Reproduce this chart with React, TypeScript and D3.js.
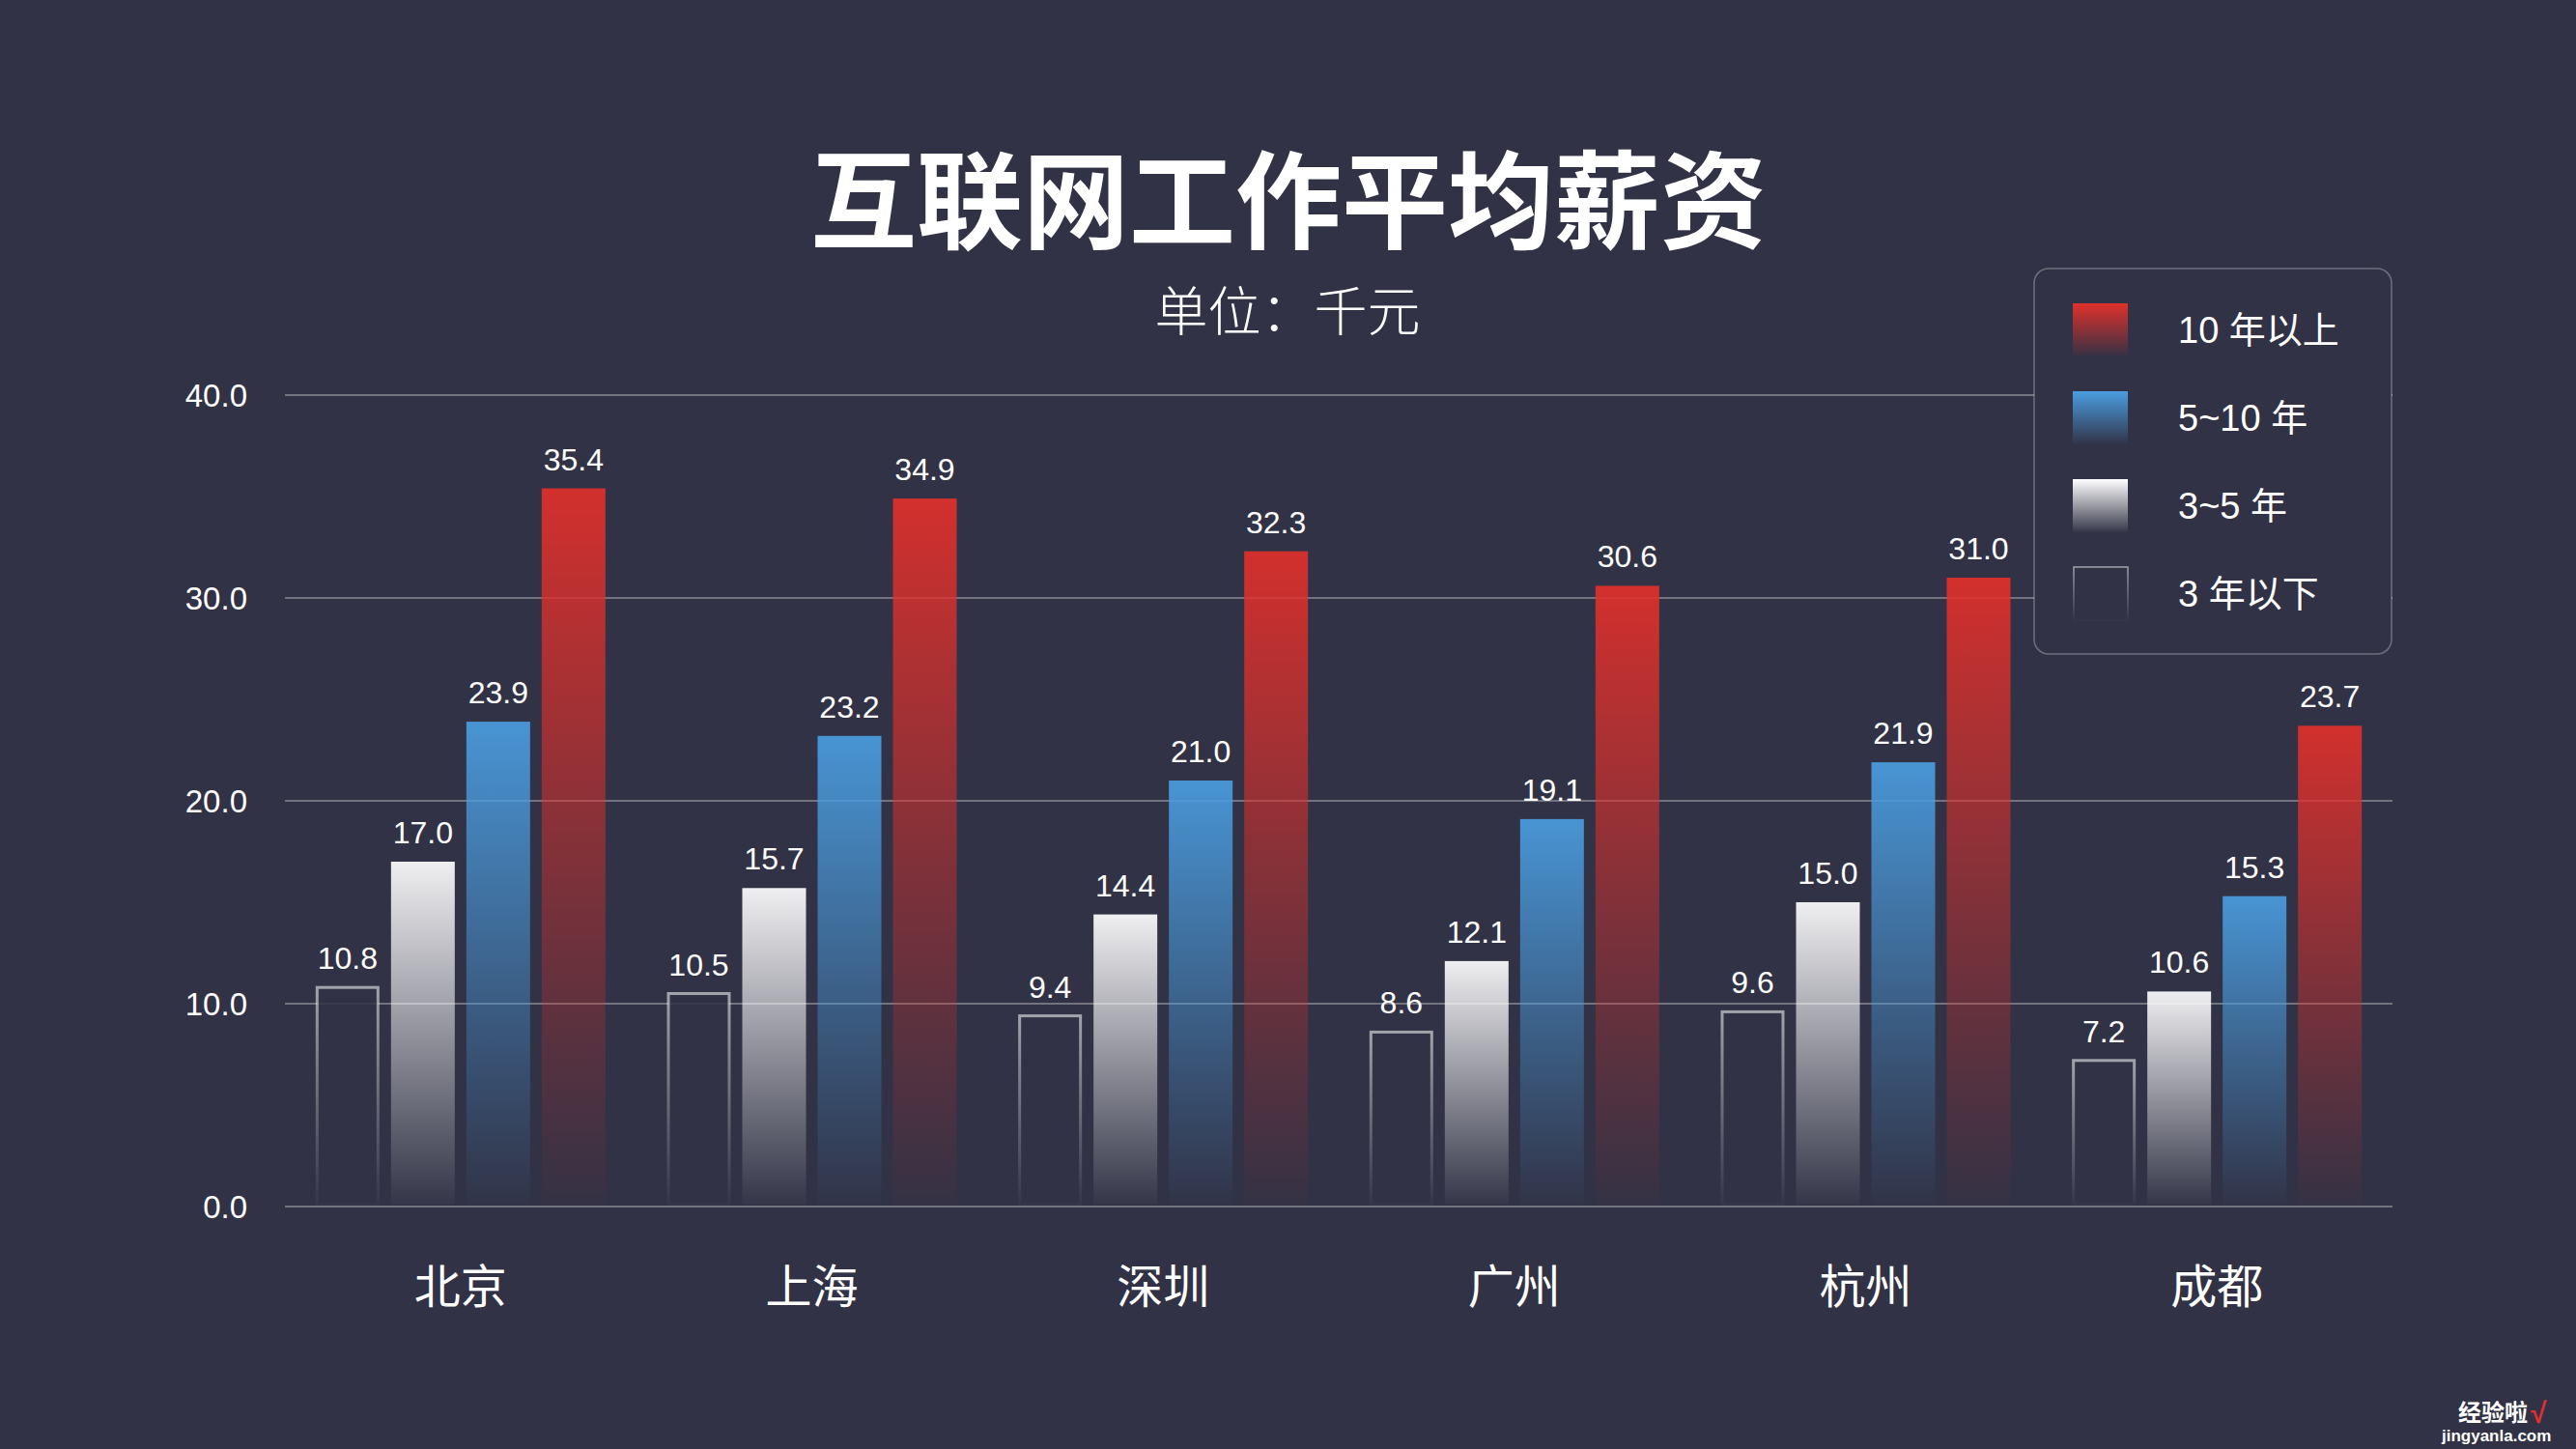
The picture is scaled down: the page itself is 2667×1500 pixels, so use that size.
import React from "react";
import * as d3 from "d3";

// chart data
const cities = ["北京", "上海", "深圳", "广州", "杭州", "成都"];
const seriesKeys = ["lt3", "y3to5", "y5to10", "gt10"];
const seriesNames = ["3 年以下", "3~5 年", "5~10 年", "10 年以上"];
const under3 = [10.8, 10.5, 9.4, 8.6, 9.6, 7.2];
const from3to5 = [17.0, 15.7, 14.4, 12.1, 15.0, 10.6];
const from5to10 = [23.9, 23.2, 21.0, 19.1, 21.9, 15.3];
const over10 = [35.4, 34.9, 32.3, 30.6, 31.0, 23.7];
const yTicks = [0, 10, 20, 30, 40];

const W = 2667, H = 1500;
const BG = "#313245";
const NUM_FONT = "'Liberation Sans', Arial, 'Noto Sans CJK SC', sans-serif";
const CJK_FONT = "'Noto Sans CJK SC', 'Liberation Sans', sans-serif";

const seriesValues: Record<string, number[]> = {
  lt3: under3, y3to5: from3to5, y5to10: from5to10, gt10: over10
};
// top colour of each gradient
const topColor: Record<string, string> = {
  lt3: "#ffffff", y3to5: "#ffffff", y5to10: "#4a9de0", gt10: "#e0302b"
};

export default function App() {
  const margin = { left: 295, right: W - 2477, top: 409, bottom: H - 1249 };
  const x0 = d3.scaleBand<string>().domain(cities).range([margin.left, W - margin.right]);
  const x1 = d3.scaleBand<string>().domain(seriesKeys)
    .range([0, x0.bandwidth()]).paddingInner(0.154).paddingOuter(0.408);
  const y = d3.scaleLinear().domain([0, 40]).range([H - margin.bottom, margin.top]);

  const legendX = 2106, legendY = 278;
  const legendOrder = [3, 2, 1, 0];

  return (
    <svg width={W} height={H} style={{ position: "absolute", left: 0, top: 0, display: "block" }}>
      <defs>
        {seriesKeys.map(k => (
          <linearGradient key={k} id={"g-" + k} x1="0" y1="0" x2="0" y2="1">
            <stop offset="0" stopColor={topColor[k]} stopOpacity={k === "lt3" ? 0.55 : 1} />
            <stop offset="1" stopColor={topColor[k]} stopOpacity={0.02} />
          </linearGradient>
        ))}
      </defs>
      <rect width={W} height={H} fill={BG} />

      {/* title */}
      <text x={1334} y={201} textAnchor="middle" dominantBaseline="central"
        fill="#fff" fontFamily={CJK_FONT} fontWeight={700} fontSize={110}>
        互联网工作平均薪资
      </text>
      <text x={1333} y={318} textAnchor="middle" dominantBaseline="central"
        fill="#fff" fontFamily={CJK_FONT} fontWeight={300} fontSize={55}>
        单位：千元
      </text>

      {/* grid + y axis */}
      {yTicks.map(t => (
        <g key={t}>
          <line x1={margin.left} x2={W - margin.right} y1={y(t)} y2={y(t)}
            stroke="#fff" strokeOpacity={0.32} strokeWidth={2.2} />
          <text x={256} y={y(t)} dy="0.35em" textAnchor="end" fill="#fff"
            fontFamily={NUM_FONT} fontSize={33}>
            {d3.format(".1f")(t)}
          </text>
        </g>
      ))}

      {/* bars */}
      {cities.map((c, i) => (
        <g key={c} transform={`translate(${x0(c)},0)`}>
          {seriesKeys.map(k => {
            const v = seriesValues[k][i];
            const bx = x1(k)!;
            const bw = x1.bandwidth();
            const top = y(v);
            return (
              <g key={k}>
                {k === "lt3" ? (
                  <rect x={bx + 1.5} y={top} width={bw - 3} height={y(0) - top - 2}
                    fill={BG} fillOpacity={0.85} stroke={"url(#g-" + k + ")"} strokeWidth={3} />
                ) : (
                  <rect x={bx} y={top} width={bw} height={y(0) - top - 2}
                    fill={"url(#g-" + k + ")"} fillOpacity={0.92} />
                )}
                <text x={bx + bw / 2} y={top - 19} textAnchor="middle" fill="#fff"
                  fontFamily={NUM_FONT} fontSize={32}>
                  {d3.format(".1f")(v)}
                </text>
              </g>
            );
          })}
          <text x={x0.bandwidth() / 2} y={1328} textAnchor="middle" dominantBaseline="central"
            fill="#fff" fontFamily={CJK_FONT} fontSize={48}>
            {c}
          </text>
        </g>
      ))}

      {/* legend */}
      <rect x={legendX} y={legendY} width={370} height={399} rx={15} ry={15}
        fill={BG} stroke="#fff" strokeOpacity={0.3} strokeWidth={1.5} />
      {legendOrder.map((si, row) => {
        const k = seriesKeys[si];
        const sy = 314 + row * 91;
        return (
          <g key={k}>
            {k === "lt3" ? (
              <rect x={2147} y={sy} width={56} height={55} fill="none"
                stroke={"url(#g-" + k + ")"} strokeWidth={1.5} />
            ) : (
              <rect x={2146} y={sy} width={57} height={55} fill={"url(#g-" + k + ")"} />
            )}
            <text x={2255} y={sy + 28} dominantBaseline="central" fill="#fff"
              fontFamily={NUM_FONT} fontSize={38}>
              {seriesNames[si]}
            </text>
          </g>
        );
      })}

      {/* watermark */}
      <text x={2545} y={1471} fill="#fff" fontFamily={CJK_FONT} fontWeight={700} fontSize={24}>经验啦</text>
      <text x={2620} y={1473} fill="#e0302b" fontFamily={NUM_FONT} fontWeight={700} fontSize={30}>√</text>
      <text x={2528} y={1492} fill="#fff" fontFamily={NUM_FONT} fontWeight={700} fontSize={17}>jingyanla.com</text>
    </svg>
  );
}
